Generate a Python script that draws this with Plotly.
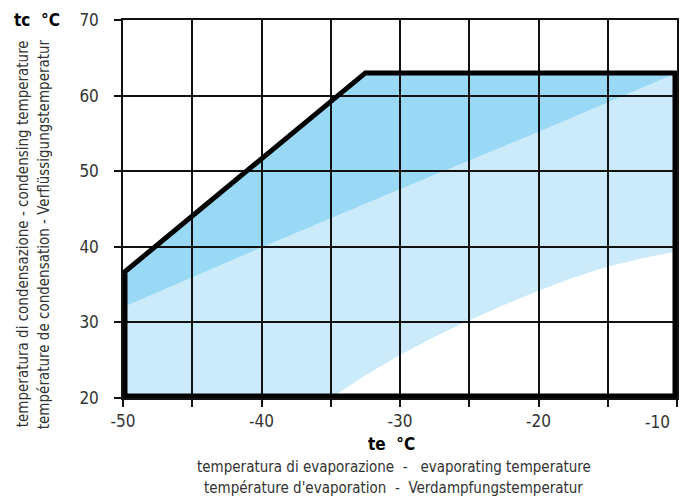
import plotly.graph_objects as go

# ---- data ----
# operating envelope (te, tc)
env_te = [-50, -50, -32.5, -10, -10]
env_tc = [20, 36.5, 63, 63, 20]
# boundary between dark and light zone
div_te = [-50, -40, -30, -20, -10]
div_tc = [32.0, 39.9, 47.6, 55.2, 63.0]
# lower boundary of light zone
low_te = [-35, -32.5, -30, -27.5, -25, -22.5, -20, -17.5, -15, -12.5, -10]
low_tc = [20, 23.0, 25.7, 28.1, 30.3, 32.3, 34.2, 35.9, 37.4, 38.5, 39.4]

x_tickvals = [-50, -45, -40, -35, -30, -25, -20, -15, -10]
x_ticktext = ["-50", "", "-40", "", "-30", "", "-20", "", ""]
x_last_label = "-10"   # drawn right-aligned at the edge, as in the original
y_tickvals = [20, 30, 40, 50, 60, 70]
y_ticktext = ["20", "30", "40", "50", "60", "70"]

DARK = "#99d9f6"
LIGHT = "#cbeafa"
FONT = "DejaVu Sans Condensed, Liberation Sans Narrow, Liberation Sans, sans-serif"


def path(xs, ys):
    return "M " + " L ".join(f"{x},{y}" for x, y in zip(xs, ys)) + " Z"


# light zone polygon
light_x = [env_te[0]] + div_te + [low_te[-1]] + low_te[::-1]
light_y = [env_tc[0]] + div_tc + [low_tc[-1]] + low_tc[::-1]
# dark zone polygon
dark_x = [div_te[0], env_te[1], env_te[2], env_te[3]] + div_te[::-1]
dark_y = [div_tc[0], env_tc[1], env_tc[2], env_tc[3]] + div_tc[::-1]

fig = go.Figure()

# envelope outline: edge segments (half clipped) and inner segments
fig.add_trace(go.Scatter(
    x=[env_te[1], env_te[0], env_te[4], env_te[3]],
    y=[env_tc[1], env_tc[0], env_tc[4], env_tc[3]],
    mode="lines", line=dict(color="black", width=9),
    showlegend=False, hoverinfo="skip"))
fig.add_trace(go.Scatter(
    x=env_te[1:4], y=env_tc[1:4],
    mode="lines", line=dict(color="black", width=5),
    showlegend=False, hoverinfo="skip"))

fig.update_layout(
    width=684, height=500,
    margin=dict(l=123, r=5, t=20, b=102),
    paper_bgcolor="white", plot_bgcolor="white",
    shapes=[
        dict(type="path", xref="x", yref="y", path=path(light_x, light_y),
             fillcolor=LIGHT, line=dict(width=0), layer="below"),
        dict(type="path", xref="x", yref="y", path=path(dark_x, dark_y),
             fillcolor=DARK, line=dict(width=0), layer="below"),
    ],
    xaxis=dict(
        range=[-50, -10], tickmode="array", tickvals=x_tickvals, ticktext=x_ticktext,
        showgrid=True, gridcolor="#111", gridwidth=1.5,
        showline=True, linecolor="#111", linewidth=1.5, mirror=True,
        ticks="outside", ticklen=7, tickwidth=1.5, tickcolor="#111",
        tickfont=dict(family=FONT, size=17, color="#333"),
        zeroline=False,
    ),
    yaxis=dict(
        range=[20, 70], tickmode="array", tickvals=y_tickvals, ticktext=y_ticktext,
        showgrid=True, gridcolor="#111", gridwidth=1.5,
        showline=True, linecolor="#111", linewidth=1.5, mirror=True,
        ticks="outside", ticklen=7, tickwidth=1.5, tickcolor="#111",
        tickfont=dict(family=FONT, size=17, color="#333"),
        ticklabelstandoff=12,
        zeroline=False,
    ),
)

NB = "\u00a0"
SUB = dict(family=FONT, size=15, color="#333")
ann = [
    dict(text="<b>tc" + NB * 2 + "°C</b>", x=-0.1547, y=1.0,
         font=dict(family=FONT, size=17, color="black")),
    dict(text="temperatura di condensazione - condensing temperature", x=-0.1799, y=0.434,
         textangle=-90, font=SUB),
    dict(text="température de condensation - Verflüssigungstemperatur", x=-0.1421, y=0.434,
         textangle=-90, font=SUB),
    dict(text="<b>te" + NB * 2 + "°C</b>", x=0.4838, y=-0.1217,
         font=dict(family=FONT, size=17, color="black")),
    dict(text="temperatura di evaporazione" + NB * 2 + "-" + NB * 3 + "evaporating temperature",
         x=0.489, y=-0.1825, font=SUB),
    dict(text="température d'evaporation" + NB * 2 + "-" + NB * 2 + "Verdampfungstemperatur",
         x=0.4874, y=-0.238, font=SUB),
]
for a in ann:
    a.update(xref="paper", yref="paper", showarrow=False, xanchor="center", yanchor="middle")
ann.append(dict(text=x_last_label, x=x_tickvals[-1], xref="x", y=-0.0635, yref="paper",
                xanchor="right", yanchor="middle", xshift=-5, showarrow=False,
                font=dict(family=FONT, size=17, color="#333")))
fig.update_layout(annotations=ann)

fig.write_html("out.html", post_script="document.body.style.margin='0';",
               config={"displayModeBar": False})
